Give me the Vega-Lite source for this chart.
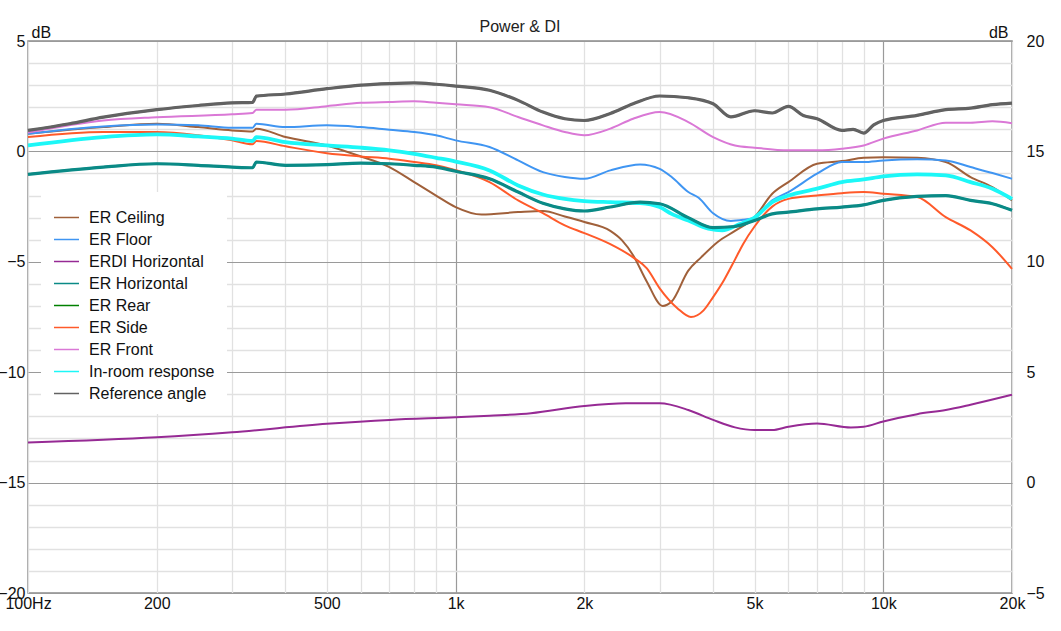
{
  "$schema": "https://vega.github.io/schema/vega-lite/v6.json",
  "width": 984,
  "height": 552,
  "autosize": {"type": "none"},
  "padding": {"left": 28, "top": 41, "right": 49, "bottom": 38},
  "background": "white",
  "title": {"text": "Power & DI", "fontSize": 16, "fontWeight": "normal", "font": "Liberation Sans", "color": "#222", "offset": -11},
  "datasets": {
    "curves": [
      {"s":"ER Ceiling","f":100,"v":0.8},{"s":"ER Ceiling","f":150,"v":1.1},{"s":"ER Ceiling","f":200,"v":1.25},{"s":"ER Ceiling","f":250,"v":1.1},{"s":"ER Ceiling","f":300,"v":0.95},{"s":"ER Ceiling","f":335,"v":0.9},{"s":"ER Ceiling","f":342,"v":1.03},{"s":"ER Ceiling","f":400,"v":0.65},{"s":"ER Ceiling","f":500,"v":0.27},{"s":"ER Ceiling","f":600,"v":-0.23},{"s":"ER Ceiling","f":700,"v":-0.71},{"s":"ER Ceiling","f":800,"v":-1.39},{"s":"ER Ceiling","f":900,"v":-2.0},{"s":"ER Ceiling","f":1000,"v":-2.52},{"s":"ER Ceiling","f":1150,"v":-2.86},{"s":"ER Ceiling","f":1400,"v":-2.75},{"s":"ER Ceiling","f":1600,"v":-2.7},{"s":"ER Ceiling","f":1800,"v":-2.95},{"s":"ER Ceiling","f":2000,"v":-3.2},{"s":"ER Ceiling","f":2300,"v":-3.6},{"s":"ER Ceiling","f":2450,"v":-4.03},{"s":"ER Ceiling","f":2600,"v":-4.7},{"s":"ER Ceiling","f":2800,"v":-5.9},{"s":"ER Ceiling","f":3050,"v":-7.0},{"s":"ER Ceiling","f":3200,"v":-6.8},{"s":"ER Ceiling","f":3500,"v":-5.4},{"s":"ER Ceiling","f":3750,"v":-4.8},{"s":"ER Ceiling","f":4100,"v":-4.1},{"s":"ER Ceiling","f":4500,"v":-3.6},{"s":"ER Ceiling","f":5000,"v":-2.98},{"s":"ER Ceiling","f":5500,"v":-1.92},{"s":"ER Ceiling","f":6000,"v":-1.39},{"s":"ER Ceiling","f":7000,"v":-0.56},{"s":"ER Ceiling","f":8000,"v":-0.44},{"s":"ER Ceiling","f":9000,"v":-0.29},{"s":"ER Ceiling","f":10000,"v":-0.26},{"s":"ER Ceiling","f":12000,"v":-0.29},{"s":"ER Ceiling","f":14000,"v":-0.48},{"s":"ER Ceiling","f":16000,"v":-1.16},{"s":"ER Ceiling","f":18000,"v":-1.62},{"s":"ER Ceiling","f":20000,"v":-2.22},

      {"s":"ER Floor","f":100,"v":0.8},{"s":"ER Floor","f":150,"v":1.13},{"s":"ER Floor","f":200,"v":1.22},{"s":"ER Floor","f":250,"v":1.18},{"s":"ER Floor","f":300,"v":1.07},{"s":"ER Floor","f":335,"v":1.07},{"s":"ER Floor","f":342,"v":1.25},{"s":"ER Floor","f":400,"v":1.1},{"s":"ER Floor","f":500,"v":1.18},{"s":"ER Floor","f":600,"v":1.1},{"s":"ER Floor","f":700,"v":0.98},{"s":"ER Floor","f":800,"v":0.88},{"s":"ER Floor","f":900,"v":0.73},{"s":"ER Floor","f":1000,"v":0.5},{"s":"ER Floor","f":1200,"v":0.2},{"s":"ER Floor","f":1400,"v":-0.41},{"s":"ER Floor","f":1600,"v":-0.94},{"s":"ER Floor","f":1800,"v":-1.16},{"s":"ER Floor","f":2000,"v":-1.24},{"s":"ER Floor","f":2300,"v":-0.86},{"s":"ER Floor","f":2700,"v":-0.59},{"s":"ER Floor","f":3000,"v":-0.79},{"s":"ER Floor","f":3200,"v":-1.16},{"s":"ER Floor","f":3500,"v":-1.84},{"s":"ER Floor","f":3700,"v":-2.1},{"s":"ER Floor","f":4000,"v":-2.8},{"s":"ER Floor","f":4400,"v":-3.15},{"s":"ER Floor","f":4700,"v":-3.1},{"s":"ER Floor","f":5000,"v":-3.0},{"s":"ER Floor","f":5500,"v":-2.22},{"s":"ER Floor","f":6000,"v":-1.84},{"s":"ER Floor","f":7000,"v":-1.01},{"s":"ER Floor","f":8000,"v":-0.48},{"s":"ER Floor","f":9000,"v":-0.48},{"s":"ER Floor","f":10000,"v":-0.41},{"s":"ER Floor","f":12000,"v":-0.36},{"s":"ER Floor","f":14000,"v":-0.41},{"s":"ER Floor","f":16000,"v":-0.71},{"s":"ER Floor","f":18000,"v":-0.98},{"s":"ER Floor","f":20000,"v":-1.24},

      {"s":"ER Horizontal","f":100,"v":-1.04},{"s":"ER Horizontal","f":150,"v":-0.71},{"s":"ER Horizontal","f":200,"v":-0.56},{"s":"ER Horizontal","f":250,"v":-0.63},{"s":"ER Horizontal","f":300,"v":-0.71},{"s":"ER Horizontal","f":335,"v":-0.74},{"s":"ER Horizontal","f":342,"v":-0.48},{"s":"ER Horizontal","f":400,"v":-0.63},{"s":"ER Horizontal","f":500,"v":-0.6},{"s":"ER Horizontal","f":600,"v":-0.53},{"s":"ER Horizontal","f":700,"v":-0.56},{"s":"ER Horizontal","f":800,"v":-0.63},{"s":"ER Horizontal","f":900,"v":-0.71},{"s":"ER Horizontal","f":1000,"v":-0.9},{"s":"ER Horizontal","f":1200,"v":-1.24},{"s":"ER Horizontal","f":1400,"v":-1.84},{"s":"ER Horizontal","f":1600,"v":-2.35},{"s":"ER Horizontal","f":1800,"v":-2.6},{"s":"ER Horizontal","f":2000,"v":-2.7},{"s":"ER Horizontal","f":2300,"v":-2.52},{"s":"ER Horizontal","f":2700,"v":-2.3},{"s":"ER Horizontal","f":3000,"v":-2.37},{"s":"ER Horizontal","f":3500,"v":-3.0},{"s":"ER Horizontal","f":4000,"v":-3.45},{"s":"ER Horizontal","f":4500,"v":-3.4},{"s":"ER Horizontal","f":5000,"v":-3.13},{"s":"ER Horizontal","f":5500,"v":-2.83},{"s":"ER Horizontal","f":6000,"v":-2.75},{"s":"ER Horizontal","f":7000,"v":-2.6},{"s":"ER Horizontal","f":8000,"v":-2.52},{"s":"ER Horizontal","f":9000,"v":-2.42},{"s":"ER Horizontal","f":10000,"v":-2.22},{"s":"ER Horizontal","f":12000,"v":-2.04},{"s":"ER Horizontal","f":14000,"v":-2.0},{"s":"ER Horizontal","f":16000,"v":-2.22},{"s":"ER Horizontal","f":18000,"v":-2.37},{"s":"ER Horizontal","f":20000,"v":-2.67},

      {"s":"ER Side","f":100,"v":0.65},{"s":"ER Side","f":150,"v":0.88},{"s":"ER Side","f":200,"v":0.88},{"s":"ER Side","f":250,"v":0.73},{"s":"ER Side","f":300,"v":0.5},{"s":"ER Side","f":335,"v":0.32},{"s":"ER Side","f":342,"v":0.47},{"s":"ER Side","f":400,"v":0.23},{"s":"ER Side","f":500,"v":-0.08},{"s":"ER Side","f":600,"v":-0.23},{"s":"ER Side","f":700,"v":-0.33},{"s":"ER Side","f":800,"v":-0.48},{"s":"ER Side","f":900,"v":-0.63},{"s":"ER Side","f":1000,"v":-0.85},{"s":"ER Side","f":1200,"v":-1.39},{"s":"ER Side","f":1400,"v":-2.22},{"s":"ER Side","f":1600,"v":-2.8},{"s":"ER Side","f":1800,"v":-3.35},{"s":"ER Side","f":2000,"v":-3.7},{"s":"ER Side","f":2300,"v":-4.2},{"s":"ER Side","f":2600,"v":-4.8},{"s":"ER Side","f":2800,"v":-5.3},{"s":"ER Side","f":3000,"v":-6.2},{"s":"ER Side","f":3300,"v":-7.1},{"s":"ER Side","f":3550,"v":-7.5},{"s":"ER Side","f":3800,"v":-7.2},{"s":"ER Side","f":4000,"v":-6.6},{"s":"ER Side","f":4250,"v":-5.8},{"s":"ER Side","f":4500,"v":-4.9},{"s":"ER Side","f":4700,"v":-4.2},{"s":"ER Side","f":5000,"v":-3.4},{"s":"ER Side","f":5500,"v":-2.5},{"s":"ER Side","f":6000,"v":-2.15},{"s":"ER Side","f":7000,"v":-2.0},{"s":"ER Side","f":8000,"v":-1.89},{"s":"ER Side","f":9000,"v":-1.84},{"s":"ER Side","f":10000,"v":-1.92},{"s":"ER Side","f":12000,"v":-2.07},{"s":"ER Side","f":14000,"v":-2.98},{"s":"ER Side","f":16000,"v":-3.58},{"s":"ER Side","f":18000,"v":-4.34},{"s":"ER Side","f":20000,"v":-5.32},

      {"s":"ER Front","f":100,"v":0.85},{"s":"ER Front","f":150,"v":1.4},{"s":"ER Front","f":200,"v":1.55},{"s":"ER Front","f":300,"v":1.68},{"s":"ER Front","f":335,"v":1.74},{"s":"ER Front","f":342,"v":1.89},{"s":"ER Front","f":400,"v":1.89},{"s":"ER Front","f":500,"v":2.05},{"s":"ER Front","f":600,"v":2.2},{"s":"ER Front","f":700,"v":2.24},{"s":"ER Front","f":800,"v":2.27},{"s":"ER Front","f":900,"v":2.2},{"s":"ER Front","f":1000,"v":2.13},{"s":"ER Front","f":1200,"v":2.0},{"s":"ER Front","f":1400,"v":1.56},{"s":"ER Front","f":1600,"v":1.18},{"s":"ER Front","f":1800,"v":0.88},{"s":"ER Front","f":2000,"v":0.73},{"s":"ER Front","f":2300,"v":1.03},{"s":"ER Front","f":2600,"v":1.48},{"s":"ER Front","f":3000,"v":1.78},{"s":"ER Front","f":3500,"v":1.33},{"s":"ER Front","f":4000,"v":0.65},{"s":"ER Front","f":4500,"v":0.27},{"s":"ER Front","f":5000,"v":0.17},{"s":"ER Front","f":6000,"v":0.05},{"s":"ER Front","f":7000,"v":0.05},{"s":"ER Front","f":8000,"v":0.12},{"s":"ER Front","f":9000,"v":0.27},{"s":"ER Front","f":10000,"v":0.58},{"s":"ER Front","f":12000,"v":0.95},{"s":"ER Front","f":14000,"v":1.3},{"s":"ER Front","f":16000,"v":1.3},{"s":"ER Front","f":18000,"v":1.36},{"s":"ER Front","f":20000,"v":1.28},

      {"s":"In-room response","f":100,"v":0.27},{"s":"In-room response","f":150,"v":0.65},{"s":"In-room response","f":200,"v":0.77},{"s":"In-room response","f":250,"v":0.68},{"s":"In-room response","f":300,"v":0.58},{"s":"In-room response","f":335,"v":0.47},{"s":"In-room response","f":342,"v":0.65},{"s":"In-room response","f":400,"v":0.42},{"s":"In-room response","f":500,"v":0.27},{"s":"In-room response","f":600,"v":0.17},{"s":"In-room response","f":700,"v":0.05},{"s":"In-room response","f":800,"v":-0.11},{"s":"In-room response","f":900,"v":-0.29},{"s":"In-room response","f":1000,"v":-0.46},{"s":"In-room response","f":1200,"v":-0.86},{"s":"In-room response","f":1400,"v":-1.54},{"s":"In-room response","f":1600,"v":-1.95},{"s":"In-room response","f":1800,"v":-2.15},{"s":"In-room response","f":2000,"v":-2.25},{"s":"In-room response","f":2300,"v":-2.3},{"s":"In-room response","f":2700,"v":-2.34},{"s":"In-room response","f":3000,"v":-2.52},{"s":"In-room response","f":3200,"v":-2.83},{"s":"In-room response","f":3500,"v":-3.13},{"s":"In-room response","f":3900,"v":-3.5},{"s":"In-room response","f":4200,"v":-3.58},{"s":"In-room response","f":4600,"v":-3.3},{"s":"In-room response","f":5000,"v":-3.0},{"s":"In-room response","f":5500,"v":-2.3},{"s":"In-room response","f":6000,"v":-2.0},{"s":"In-room response","f":7000,"v":-1.69},{"s":"In-room response","f":8000,"v":-1.39},{"s":"In-room response","f":9000,"v":-1.27},{"s":"In-room response","f":10000,"v":-1.13},{"s":"In-room response","f":12000,"v":-1.04},{"s":"In-room response","f":14000,"v":-1.09},{"s":"In-room response","f":16000,"v":-1.39},{"s":"In-room response","f":18000,"v":-1.69},{"s":"In-room response","f":20000,"v":-2.15},

      {"s":"Reference angle","f":100,"v":0.95},{"s":"Reference angle","f":125,"v":1.25},{"s":"Reference angle","f":150,"v":1.55},{"s":"Reference angle","f":200,"v":1.89},{"s":"Reference angle","f":250,"v":2.08},{"s":"Reference angle","f":300,"v":2.2},{"s":"Reference angle","f":335,"v":2.22},{"s":"Reference angle","f":342,"v":2.5},{"s":"Reference angle","f":400,"v":2.6},{"s":"Reference angle","f":500,"v":2.84},{"s":"Reference angle","f":600,"v":3.0},{"s":"Reference angle","f":700,"v":3.07},{"s":"Reference angle","f":800,"v":3.1},{"s":"Reference angle","f":900,"v":3.04},{"s":"Reference angle","f":1000,"v":2.96},{"s":"Reference angle","f":1200,"v":2.77},{"s":"Reference angle","f":1400,"v":2.31},{"s":"Reference angle","f":1600,"v":1.78},{"s":"Reference angle","f":1800,"v":1.48},{"s":"Reference angle","f":2000,"v":1.4},{"s":"Reference angle","f":2300,"v":1.72},{"s":"Reference angle","f":2600,"v":2.16},{"s":"Reference angle","f":3000,"v":2.51},{"s":"Reference angle","f":3500,"v":2.43},{"s":"Reference angle","f":4000,"v":2.16},{"s":"Reference angle","f":4400,"v":1.56},{"s":"Reference angle","f":5000,"v":1.84},{"s":"Reference angle","f":5500,"v":1.74},{"s":"Reference angle","f":6000,"v":2.04},{"s":"Reference angle","f":6500,"v":1.63},{"s":"Reference angle","f":7000,"v":1.48},{"s":"Reference angle","f":8000,"v":0.95},{"s":"Reference angle","f":8500,"v":1.0},{"s":"Reference angle","f":9000,"v":0.83},{"s":"Reference angle","f":9500,"v":1.2},{"s":"Reference angle","f":10000,"v":1.4},{"s":"Reference angle","f":12000,"v":1.63},{"s":"Reference angle","f":14000,"v":1.89},{"s":"Reference angle","f":16000,"v":1.96},{"s":"Reference angle","f":18000,"v":2.12},{"s":"Reference angle","f":20000,"v":2.19}
    ],
    "di": [
      {"s":"ERDI Horizontal","f":100,"v":1.82},{"s":"ERDI Horizontal","f":200,"v":2.05},{"s":"ERDI Horizontal","f":300,"v":2.28},{"s":"ERDI Horizontal","f":500,"v":2.66},{"s":"ERDI Horizontal","f":700,"v":2.84},{"s":"ERDI Horizontal","f":1000,"v":2.96},{"s":"ERDI Horizontal","f":1200,"v":3.03},{"s":"ERDI Horizontal","f":1500,"v":3.14},{"s":"ERDI Horizontal","f":2000,"v":3.47},{"s":"ERDI Horizontal","f":2500,"v":3.59},{"s":"ERDI Horizontal","f":3000,"v":3.59},{"s":"ERDI Horizontal","f":3500,"v":3.29},{"s":"ERDI Horizontal","f":4000,"v":2.84},{"s":"ERDI Horizontal","f":4500,"v":2.5},{"s":"ERDI Horizontal","f":5000,"v":2.38},{"s":"ERDI Horizontal","f":5500,"v":2.38},{"s":"ERDI Horizontal","f":6000,"v":2.53},{"s":"ERDI Horizontal","f":7000,"v":2.68},{"s":"ERDI Horizontal","f":8400,"v":2.5},{"s":"ERDI Horizontal","f":9000,"v":2.53},{"s":"ERDI Horizontal","f":10000,"v":2.77},{"s":"ERDI Horizontal","f":12000,"v":3.1},{"s":"ERDI Horizontal","f":14000,"v":3.29},{"s":"ERDI Horizontal","f":16000,"v":3.53},{"s":"ERDI Horizontal","f":20000,"v":3.98}
    ]
  },
  "encoding": {
    "x": {
      "field": "f", "type": "quantitative",
      "scale": {"type": "log", "domain": [100, 20000], "nice": false},
      "axis": {
        "title": null,
        "values": [100,200,300,400,500,600,700,800,900,1000,2000,3000,4000,5000,6000,7000,8000,9000,10000,20000],
        "labelExpr": "datum.value == 100 ? '100Hz' : datum.value == 200 ? '200' : datum.value == 500 ? '500' : datum.value == 1000 ? '1k' : datum.value == 2000 ? '2k' : datum.value == 5000 ? '5k' : datum.value == 10000 ? '10k' : datum.value == 20000 ? '20k' : ''",
        "grid": true,
        "gridColor": {"condition": {"test": "datum.value == 1000 || datum.value == 10000", "value": "#9a9a9a"}, "value": "#e1e1e1"},
        "gridWidth": {"condition": {"test": "datum.value == 1000 || datum.value == 10000", "value": 1.2}, "value": 1.3},
        "ticks": false, "domain": false,
        "labelFont": "Liberation Sans", "labelFontSize": 16, "labelColor": "#111",
        "labelPadding": 2, "labelOverlap": false, "labelFlush": false
      }
    }
  },
  "layer": [
    {
      "data": {"name": "curves"},
      "encoding": {
        "y": {
          "field": "v", "type": "quantitative",
          "scale": {"domain": [-20, 5], "nice": false, "zero": false},
          "axis": {
            "title": "dB", "titleAngle": 0, "titleAlign": "left", "titleBaseline": "alphabetic",
            "titleX": 3, "titleY": -4, "titleFont": "Liberation Sans", "titleFontSize": 16, "titleFontWeight": "normal", "titleColor": "#111",
            "values": [-20,-19,-18,-17,-16,-15,-14,-13,-12,-11,-10,-9,-8,-7,-6,-5,-4,-3,-2,-1,0,1,2,3,4,5],
            "labelExpr": "datum.value % 5 == 0 ? datum.label : ''",
            "grid": true,
            "gridColor": {"condition": {"test": "datum.value % 5 == 0", "value": "#9a9a9a"}, "value": "#e1e1e1"},
            "gridWidth": {"condition": {"test": "datum.value % 5 == 0", "value": 1.2}, "value": 1.3},
            "ticks": false, "domain": false,
            "labelFont": "Liberation Sans", "labelFontSize": 16, "labelColor": "#111", "labelPadding": 3
          }
        }
      },
      "layer": [
        {
          "mark": {"type": "line", "interpolate": "monotone"},
          "encoding": {
            "color": {
              "field": "s", "type": "nominal",
              "scale": {
                "domain": ["ER Ceiling","ER Floor","ERDI Horizontal","ER Horizontal","ER Rear","ER Side","ER Front","In-room response","Reference angle"],
                "range": ["#A0603A","#3F95F2","#962A94","#0A8A86","#008000","#FF5A2A","#DA78D6","#1CF7F7","#626262"]
              },
              "legend": {
                "orient": "none", "legendX": 13, "legendY": 151,
                "title": null, "fillColor": "white", "padding": 12,
                "symbolType": "stroke", "symbolSize": 625,
                "labelFont": "Liberation Sans", "labelFontSize": 16, "labelColor": "#111",
                "labelOffset": 9, "rowPadding": -10, "labelLimit": 300
              }
            }
          }
        },
        {
          "transform": [{"filter": "datum.s == 'In-room response'"}],
          "mark": {"type": "line", "interpolate": "monotone", "strokeWidth": 3.8},
          "encoding": {"color": {"field": "s", "type": "nominal", "legend": null}}
        },
        {
          "transform": [{"filter": "datum.s == 'ER Horizontal' || datum.s == 'Reference angle'"}],
          "mark": {"type": "line", "interpolate": "monotone", "strokeWidth": 3.2},
          "encoding": {"color": {"field": "s", "type": "nominal", "legend": null}}
        }
      ]
    },
    {
      "data": {"name": "di"},
      "mark": {"type": "line", "interpolate": "monotone"},
      "encoding": {
        "color": {"field": "s", "type": "nominal", "legend": null},
        "y": {
          "field": "v", "type": "quantitative",
          "scale": {"domain": [-5, 20], "nice": false, "zero": false},
          "axis": {
            "orient": "right",
            "title": "dB", "titleAngle": 0, "titleAlign": "right", "titleBaseline": "alphabetic",
            "titleX": -4, "titleY": -4, "titleFont": "Liberation Sans", "titleFontSize": 16, "titleFontWeight": "normal", "titleColor": "#111",
            "values": [-5,0,5,10,15,20],
            "grid": false, "ticks": false, "domain": false,
            "labelFont": "Liberation Sans", "labelFontSize": 16, "labelColor": "#111", "labelPadding": 14
          }
        }
      }
    }
  ],
  "resolve": {"scale": {"y": "independent"}},
  "config": {
    "view": {"stroke": "#8a8a8a", "strokeWidth": 1.5},
    "legend": {
      "orient": "none", "legendX": 13, "legendY": 151,
      "title": null, "fillColor": "white", "padding": 12,
      "symbolType": "stroke", "symbolSize": 625,
      "labelFont": "Liberation Sans", "labelFontSize": 16, "labelColor": "#111",
      "labelOffset": 9, "rowPadding": -10, "labelLimit": 300
    }
  }
}
